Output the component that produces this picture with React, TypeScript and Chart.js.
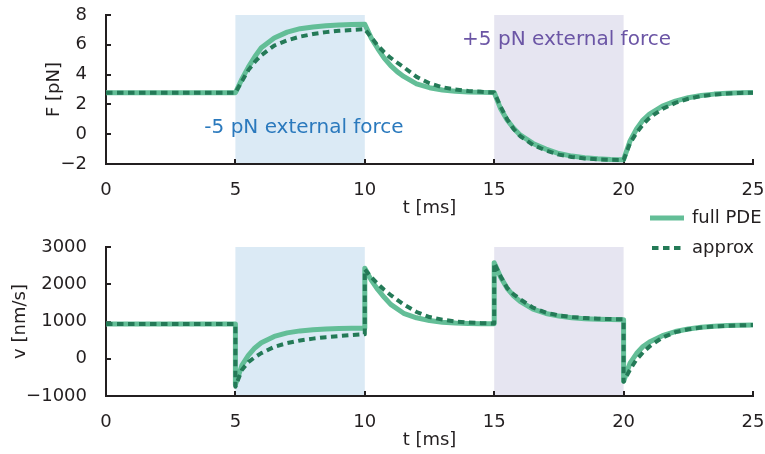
import React, { useEffect, useRef } from 'react';
import { Chart, registerables } from 'chart.js';

Chart.register(...registerables);

// ---------- data ----------
const tForce = [0, 5, 5.25, 5.5, 5.75, 6, 6.5, 7, 7.5, 8, 8.5, 9, 9.5, 10,
  10.25, 10.5, 10.75, 11, 11.25, 11.5, 12, 12.5, 13, 13.5, 14, 14.5, 15,
  15.25, 15.5, 15.75, 16, 16.5, 17, 17.5, 18, 18.5, 19, 19.5, 20,
  20.25, 20.5, 20.75, 21, 21.5, 22, 22.5, 23, 23.5, 24, 24.5, 25];
const forceFull = [2.78, 2.78, 3.7, 4.5, 5.2, 5.8, 6.45, 6.85, 7.08, 7.2, 7.28, 7.33, 7.36, 7.38,
  6.45, 5.75, 5.1, 4.6, 4.2, 3.88, 3.38, 3.12, 2.97, 2.89, 2.84, 2.81, 2.8,
  1.7, 0.95, 0.4, -0.05, -0.62, -1.0, -1.3, -1.47, -1.58, -1.65, -1.69, -1.71,
  -0.45, 0.35, 0.95, 1.35, 1.88, 2.22, 2.45, 2.6, 2.69, 2.75, 2.78, 2.8];
const forceApprox = [2.78, 2.78, 3.55, 4.3, 4.85, 5.3, 5.95, 6.3, 6.55, 6.72, 6.85, 6.94, 7.0, 7.05,
  6.5, 5.95, 5.5, 5.12, 4.8, 4.5, 3.85, 3.42, 3.15, 3.0, 2.9, 2.85, 2.8,
  1.85, 1.0, 0.35, -0.12, -0.72, -1.1, -1.37, -1.53, -1.63, -1.69, -1.72, -1.73,
  -0.6, 0.1, 0.65, 1.1, 1.7, 2.1, 2.38, 2.56, 2.66, 2.73, 2.77, 2.79];

const tVel = [0, 5, 5, 5.25, 5.5, 5.75, 6, 6.5, 7, 7.5, 8, 8.5, 9, 9.5, 10,
  10, 10.25, 10.5, 10.75, 11, 11.5, 12, 12.5, 13, 13.5, 14, 14.5, 15,
  15, 15.25, 15.5, 15.75, 16, 16.5, 17, 17.5, 18, 18.5, 19, 19.5, 20,
  20, 20.25, 20.5, 20.75, 21, 21.5, 22, 22.5, 23, 23.5, 24, 24.5, 25];
const velFull = [930, 930, -700, -180, 90, 290, 430, 600, 695, 748, 778, 797, 809, 817, 822,
  2430, 2110, 1860, 1650, 1460, 1220, 1100, 1025, 980, 958, 946, 940, 937,
  2580, 2190, 1890, 1690, 1540, 1330, 1215, 1145, 1100, 1075, 1060, 1052, 1048,
  -600, -120, 140, 330, 450, 620, 730, 800, 845, 872, 890, 900, 907];
const velApprox = [930, 930, -750, -300, -90, 40, 150, 320, 420, 490, 540, 580, 610, 637, 660,
  2400, 2190, 2010, 1850, 1710, 1460, 1255, 1120, 1050, 1002, 972, 956, 945,
  2570, 2210, 1900, 1730, 1600, 1370, 1240, 1160, 1118, 1093, 1075, 1066, 1060,
  -620, -290, -20, 170, 330, 570, 715, 790, 838, 865, 884, 897, 905];

const shadeStart = [5, 15];
const shadeEnd = [10, 20];
const annotationTexts = ['-5 pN external force', '+5 pN external force'];
const annotationT = [3.8, 13.76];
const annotationF = [0.05, 5.96];
const legendLabels = ['full PDE', 'approx'];

// ---------- styles ----------
const FONT = "'DejaVu Sans', sans-serif";
const AXIS_COLOR = '#231f20';
const FULL_COLOR = '#63be97';
const APPROX_COLOR = '#247a57';
const SHADE_COLORS = ['#dbeaf5', '#e6e5f1'];
const ANNOT_COLORS = ['#2a79bd', '#6b55a5'];

Chart.defaults.font.family = FONT;
Chart.defaults.font.size = 18;
Chart.defaults.color = AXIS_COLOR;

const minusFmt = (v: number) => (v < 0 ? '\u2212' + Math.abs(v) : String(v));

const shadePlugin = {
  id: 'shade',
  beforeDraw(chart: any) {
    const { ctx, chartArea, scales } = chart;
    const xs = scales.x;
    ctx.save();
    shadeStart.forEach((s, i) => {
      const x1 = xs.getPixelForValue(s);
      const x2 = xs.getPixelForValue(shadeEnd[i]);
      ctx.fillStyle = SHADE_COLORS[i];
      ctx.fillRect(x1, chartArea.top, x2 - x1, chartArea.bottom - chartArea.top);
    });
    ctx.restore();
  },
};

const inwardTicks = {
  id: 'inwardTicks',
  beforeDatasetsDraw(chart: any) {
    const { ctx, chartArea, scales } = chart;
    ctx.save();
    ctx.strokeStyle = AXIS_COLOR;
    ctx.lineWidth = 2;
    scales.x.ticks.forEach((t: any) => {
      const x = Math.round(scales.x.getPixelForValue(t.value));
      ctx.beginPath();
      ctx.moveTo(x, chartArea.bottom);
      ctx.lineTo(x, chartArea.bottom - 5);
      ctx.stroke();
    });
    scales.y.ticks.forEach((t: any) => {
      const y = Math.round(scales.y.getPixelForValue(t.value));
      ctx.beginPath();
      ctx.moveTo(chartArea.left, y);
      ctx.lineTo(chartArea.left + 5, y);
      ctx.stroke();
    });
    ctx.restore();
  },
};

const annotationPlugin = {
  id: 'annot',
  afterDraw(chart: any) {
    const { ctx, scales } = chart;
    ctx.save();
    ctx.font = `20px ${FONT}`;
    ctx.textAlign = 'left';
    ctx.textBaseline = 'alphabetic';
    annotationTexts.forEach((txt, i) => {
      ctx.fillStyle = ANNOT_COLORS[i];
      ctx.fillText(txt, scales.x.getPixelForValue(annotationT[i]), scales.y.getPixelForValue(annotationF[i]));
    });
    ctx.restore();
  },
};

const legendPlugin = {
  id: 'customLegend',
  afterDraw(chart: any) {
    const { ctx } = chart;
    ctx.save();
    ctx.lineCap = 'butt';
    ctx.strokeStyle = FULL_COLOR;
    ctx.lineWidth = 5;
    ctx.beginPath();
    ctx.moveTo(650, 18);
    ctx.lineTo(684, 18);
    ctx.stroke();
    ctx.strokeStyle = APPROX_COLOR;
    ctx.lineWidth = 4;
    ctx.setLineDash([6.5, 4.5]);
    ctx.beginPath();
    ctx.moveTo(652, 48);
    ctx.lineTo(684, 48);
    ctx.stroke();
    ctx.setLineDash([]);
    ctx.fillStyle = AXIS_COLOR;
    ctx.font = `18px ${FONT}`;
    ctx.textBaseline = 'middle';
    ctx.textAlign = 'left';
    ctx.fillText(legendLabels[0], 692, 18);
    ctx.fillText(legendLabels[1], 692, 48);
    ctx.restore();
  },
};

type PanelProps = {
  t: number[];
  full: number[];
  approx: number[];
  yMin: number;
  yMax: number;
  yStep: number;
  yTitle: string;
  yTitlePad: number;
  topPad: number;
  xAxisHeight: number;
  xTitlePad: number;
  height: number;
  top: number;
  extraPlugins: any[];
};

function Panel(p: PanelProps) {
  const ref = useRef<HTMLCanvasElement | null>(null);
  useEffect(() => {
    if (!ref.current) return;
    const chart = new Chart(ref.current, {
      type: 'line',
      data: {
        datasets: [
          {
            label: 'approx',
            data: p.t.map((x, i) => ({ x, y: p.approx[i] })),
            borderColor: APPROX_COLOR,
            borderWidth: 4,
            borderDash: [6.5, 4.5],
            borderJoinStyle: 'round',
            pointRadius: 0,
            tension: 0,
            order: 1,
          },
          {
            label: 'full PDE',
            data: p.t.map((x, i) => ({ x, y: p.full[i] })),
            borderColor: FULL_COLOR,
            borderWidth: 5,
            borderJoinStyle: 'round',
            pointRadius: 0,
            tension: 0,
            order: 2,
          },
        ],
      },
      options: {
        animation: false,
        responsive: true,
        maintainAspectRatio: false,
        devicePixelRatio: 1,
        layout: { padding: { left: 0, right: 12, top: p.topPad, bottom: 0 } },
        plugins: { legend: { display: false }, tooltip: { enabled: false } },
        scales: {
          x: {
            type: 'linear',
            min: 0,
            max: 25,
            grid: { display: false },
            border: { display: true, color: AXIS_COLOR, width: 2 },
            ticks: { stepSize: 5, padding: 8, maxRotation: 0, color: AXIS_COLOR, font: { size: 18 } },
            title: { display: true, text: 't [ms]', color: AXIS_COLOR, font: { size: 18 }, padding: { top: 0, bottom: p.xTitlePad } },
            afterFit: (s: any) => {
              s.height = p.xAxisHeight;
              s.paddingLeft = 0;
              s.paddingRight = 0;
            },
          },
          y: {
            type: 'linear',
            min: p.yMin,
            max: p.yMax,
            grid: { display: false },
            border: { display: true, color: AXIS_COLOR, width: 2 },
            ticks: { stepSize: p.yStep, padding: 11, color: AXIS_COLOR, font: { size: 18 }, callback: (v: any) => minusFmt(Number(v)) },
            title: { display: true, text: p.yTitle, color: AXIS_COLOR, font: { size: 18 }, padding: { top: p.yTitlePad, bottom: 0 } },
            afterFit: (s: any) => {
              s.width = 106;
              s.paddingTop = 0;
              s.paddingBottom = 0;
            },
          },
        },
      },
      plugins: [shadePlugin, inwardTicks, ...p.extraPlugins],
    } as any);
    return () => chart.destroy();
  }, []);
  return (
    <div style={{ position: 'absolute', left: 0, top: p.top, width: 765, height: p.height }}>
      <canvas ref={ref} />
    </div>
  );
}

export default function App() {
  return (
    <div style={{ position: 'fixed', left: 0, top: 0, width: 765, height: 454, background: '#ffffff' }}>
      <Panel
        t={tForce}
        full={forceFull}
        approx={forceApprox}
        yMin={-2}
        yMax={8}
        yStep={2}
        yTitle="F [pN]"
        yTitlePad={44}
        topPad={15}
        xAxisHeight={63}
        xTitlePad={8}
        height={227}
        top={0}
        extraPlugins={[annotationPlugin]}
      />
      <Panel
        t={tVel}
        full={velFull}
        approx={velApprox}
        yMin={-1000}
        yMax={3000}
        yStep={1000}
        yTitle="v [nm/s]"
        yTitlePad={10}
        topPad={47}
        xAxisHeight={58}
        xTitlePad={3}
        height={254}
        top={200}
        extraPlugins={[legendPlugin]}
      />
    </div>
  );
}
